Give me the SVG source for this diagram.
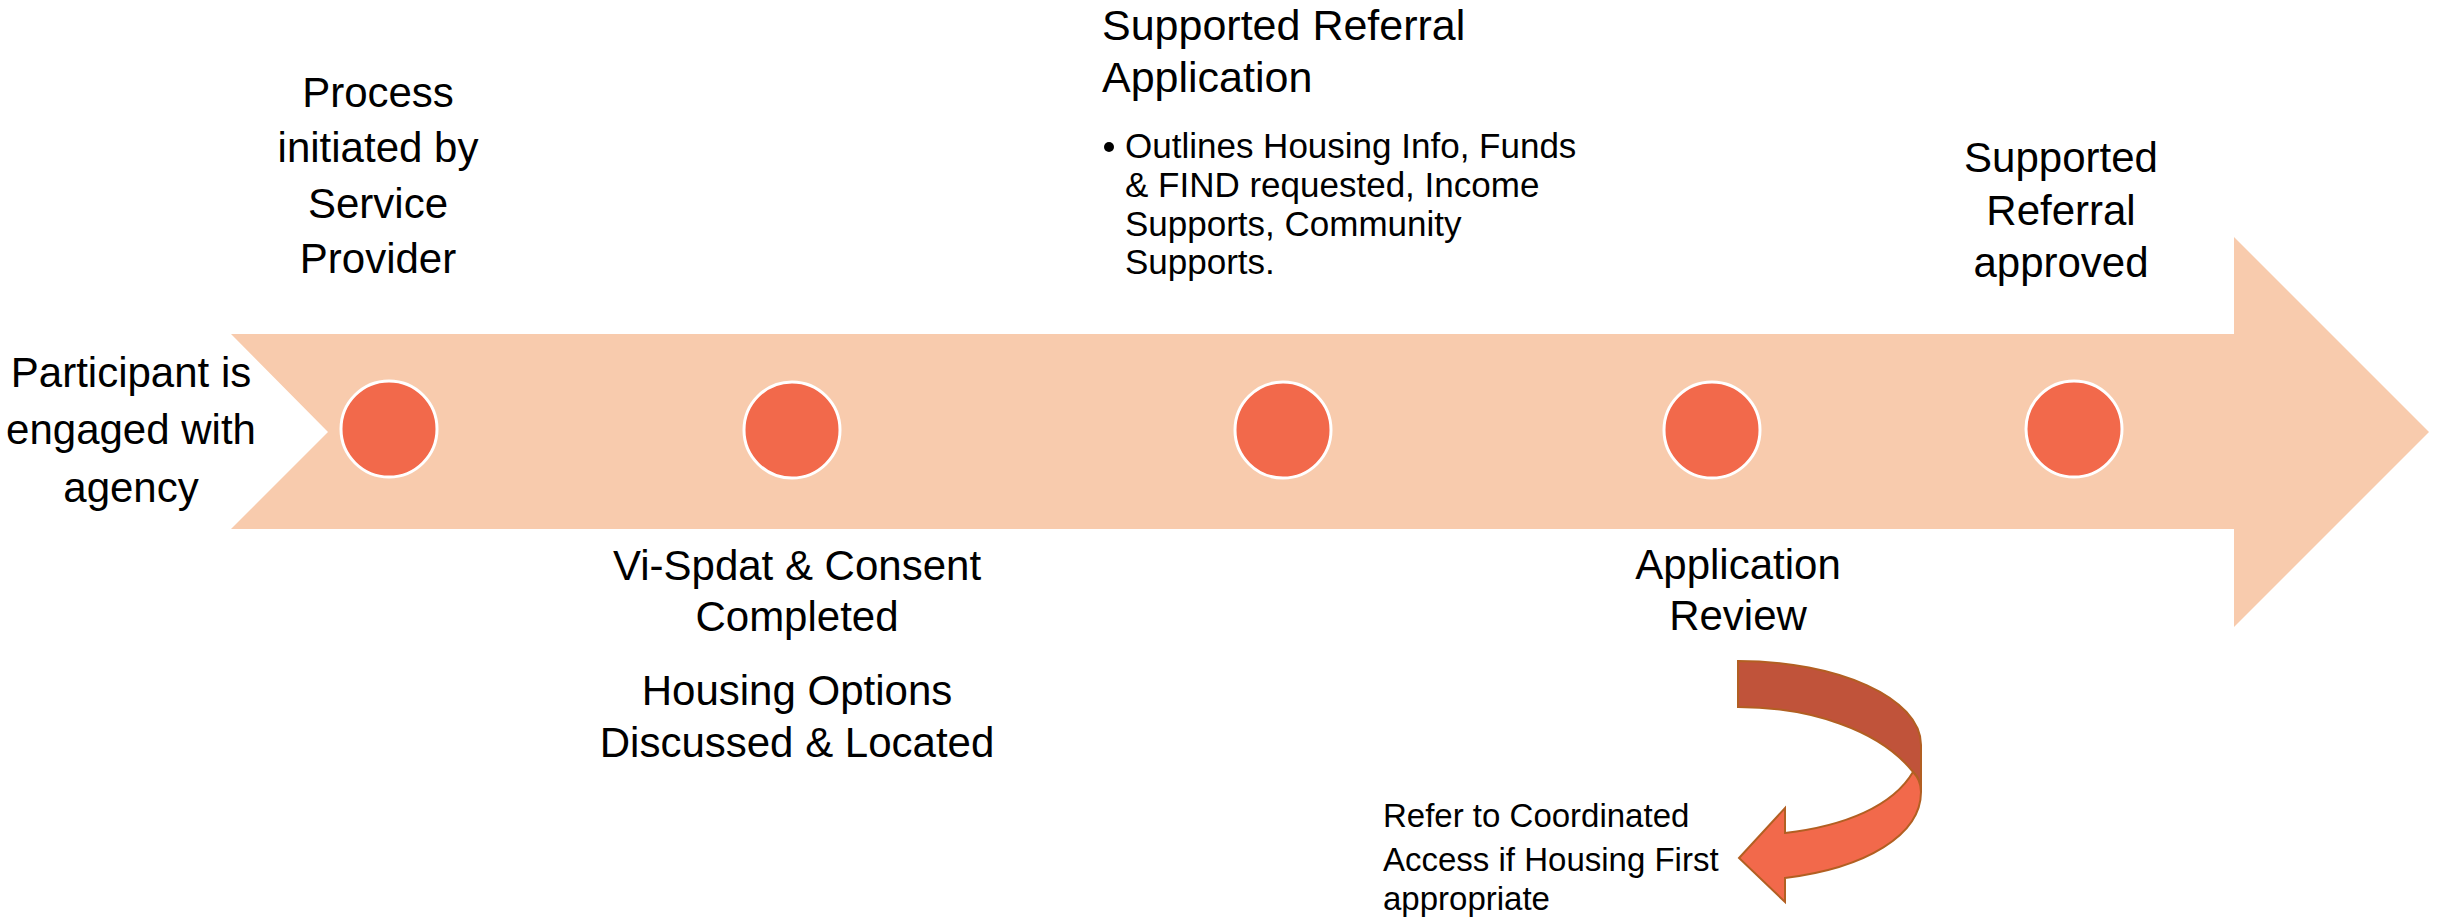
<svg xmlns="http://www.w3.org/2000/svg" width="2442" height="924" viewBox="0 0 2442 924">
<style>
.t{font-family:"Liberation Sans",Arial,sans-serif;font-size:42px;fill:#000;}
.s{font-family:"Liberation Sans",Arial,sans-serif;font-size:35px;fill:#000;}
.r{font-family:"Liberation Sans",Arial,sans-serif;font-size:33px;fill:#000;}
.c{text-anchor:middle;}
.dot{fill:#F2694B;stroke:#FFFFFF;stroke-width:3;}
</style>
<rect width="2442" height="924" fill="#FFFFFF"/>
<g id="timeline-arrow">
<polygon points="231,334 2234,334 2234,237 2429,432 2234,627 2234,529 231,529 328,432" fill="#F8CBAD"/>
</g>
<g id="connectors">
<path d="M1738,661 C1838,661 1921,698 1921,745 L1921,792 C1921,784 1918,777 1913,772 C1880,730 1810,707 1738,707 Z" fill="#C0533A" stroke="#B25F22" stroke-width="2"/>
<path d="M1913,772 C1893,806 1845,826 1785,833 L1785,808 L1739,858 L1785,902 L1785,878 C1866,868 1921,835 1921,792 C1921,784 1918,777 1913,772 Z" fill="#F2694B" stroke="#B25F22" stroke-width="2"/>
</g>
<g id="node-start">
<text class="t c" x="131" y="387">Participant is</text>
<text class="t c" x="131" y="444">engaged with</text>
<text class="t c" x="131" y="502">agency</text>
</g>
<g id="node-process">
<circle class="dot" cx="389" cy="429" r="48"/>
<text class="t c" x="378" y="107">Process</text>
<text class="t c" x="378" y="162">initiated by</text>
<text class="t c" x="378" y="218">Service</text>
<text class="t c" x="378" y="273">Provider</text>
</g>
<g id="node-vispdat">
<circle class="dot" cx="792" cy="430" r="48"/>
<text class="t c" x="797" y="580">Vi-Spdat &amp; Consent</text>
<text class="t c" x="797" y="631">Completed</text>
<text class="t c" x="797" y="705">Housing Options</text>
<text class="t c" x="797" y="757">Discussed &amp; Located</text>
</g>
<g id="node-application">
<circle class="dot" cx="1283" cy="430" r="48"/>
<text class="t" x="1102" y="40" style="font-size:43px">Supported Referral</text>
<text class="t" x="1102" y="92" style="font-size:43px">Application</text>
<circle cx="1109" cy="147" r="5" fill="#000"/>
<text class="s" x="1125" y="158">Outlines Housing Info, Funds</text>
<text class="s" x="1125" y="197">&amp; FIND requested, Income</text>
<text class="s" x="1125" y="236">Supports, Community</text>
<text class="s" x="1125" y="274">Supports.</text>
</g>
<g id="node-review">
<circle class="dot" cx="1712" cy="430" r="48"/>
<text class="t c" x="1738" y="579">Application</text>
<text class="t c" x="1738" y="630">Review</text>
</g>
<g id="node-approved">
<circle class="dot" cx="2074" cy="429" r="48"/>
<text class="t c" x="2061" y="172">Supported</text>
<text class="t c" x="2061" y="225">Referral</text>
<text class="t c" x="2061" y="277">approved</text>
</g>
<g id="node-refer">
<text class="r" x="1383" y="827">Refer to Coordinated</text>
<text class="r" x="1383" y="871">Access if Housing First</text>
<text class="r" x="1383" y="910">appropriate</text>
</g>
</svg>
